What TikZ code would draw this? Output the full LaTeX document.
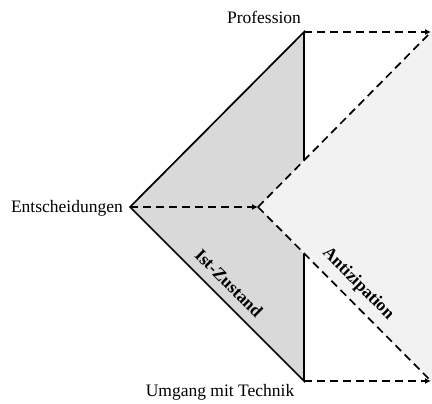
\documentclass[tikz,border=0pt]{standalone}
\usepackage{fontspec}
\setmainfont{Liberation Serif}
\usetikzlibrary{arrows.meta}
\definecolor{darkfill}{HTML}{D9D9D9}
\definecolor{lightfill}{HTML}{F2F2F2}
\begin{document}
\begin{tikzpicture}[x=1pt,y=-1pt,
  solidline/.style={line width=1.7pt},
  dashline/.style={line width=1.7pt,dash pattern=on 8pt off 5pt},
  arrowline/.style={dashline,-{Latex[length=6pt,width=6pt]}},
  lbl/.style={font=\fontsize{17.5}{20}\selectfont,inner sep=0pt},
  blbl/.style={font=\fontsize{17.5}{20}\selectfont\bfseries,inner sep=0pt,rotate=-45}]
\useasboundingbox (0,0) rectangle (432,404);
\coordinate (L) at (130,207);
\coordinate (T) at (304,32);
\coordinate (B) at (304,381);
\coordinate (M) at (258,207);
\coordinate (TR) at (431,32);
\coordinate (BR) at (431,381);
\coordinate (UT) at (304,160);
\coordinate (UB) at (304,254);
% fills
\fill[lightfill] (M) -- (TR) -- (432,32) -- (432,381) -- (BR) -- cycle;
\fill[darkfill] (L) -- (T) -- (UT) -- (M) -- (UB) -- (B) -- cycle;
% solid lines
\draw[solidline] (UT) -- (T) -- (L) -- (B) -- (UB);
% dashed lines
\draw[dashline] (M) -- (TR);
\draw[dashline] (M) -- (BR);
\draw[arrowline] (L) -- (M);
\draw[arrowline] (T) -- (TR);
\draw[arrowline] (B) -- (BR);
% labels
\node[lbl,anchor=base] (prof) at (264,24) {Profession};
\node[lbl,anchor=east] (ent) at (123,208) {Entscheidungen};
\node[lbl,anchor=base] (umg) at (220,396) {Umgang mit Technik};
\node[blbl] (ist) at (229,283) {Ist-Zustand};
\node[blbl] (ant) at (358,284) {Antizipation};
\end{tikzpicture}
\end{document}
